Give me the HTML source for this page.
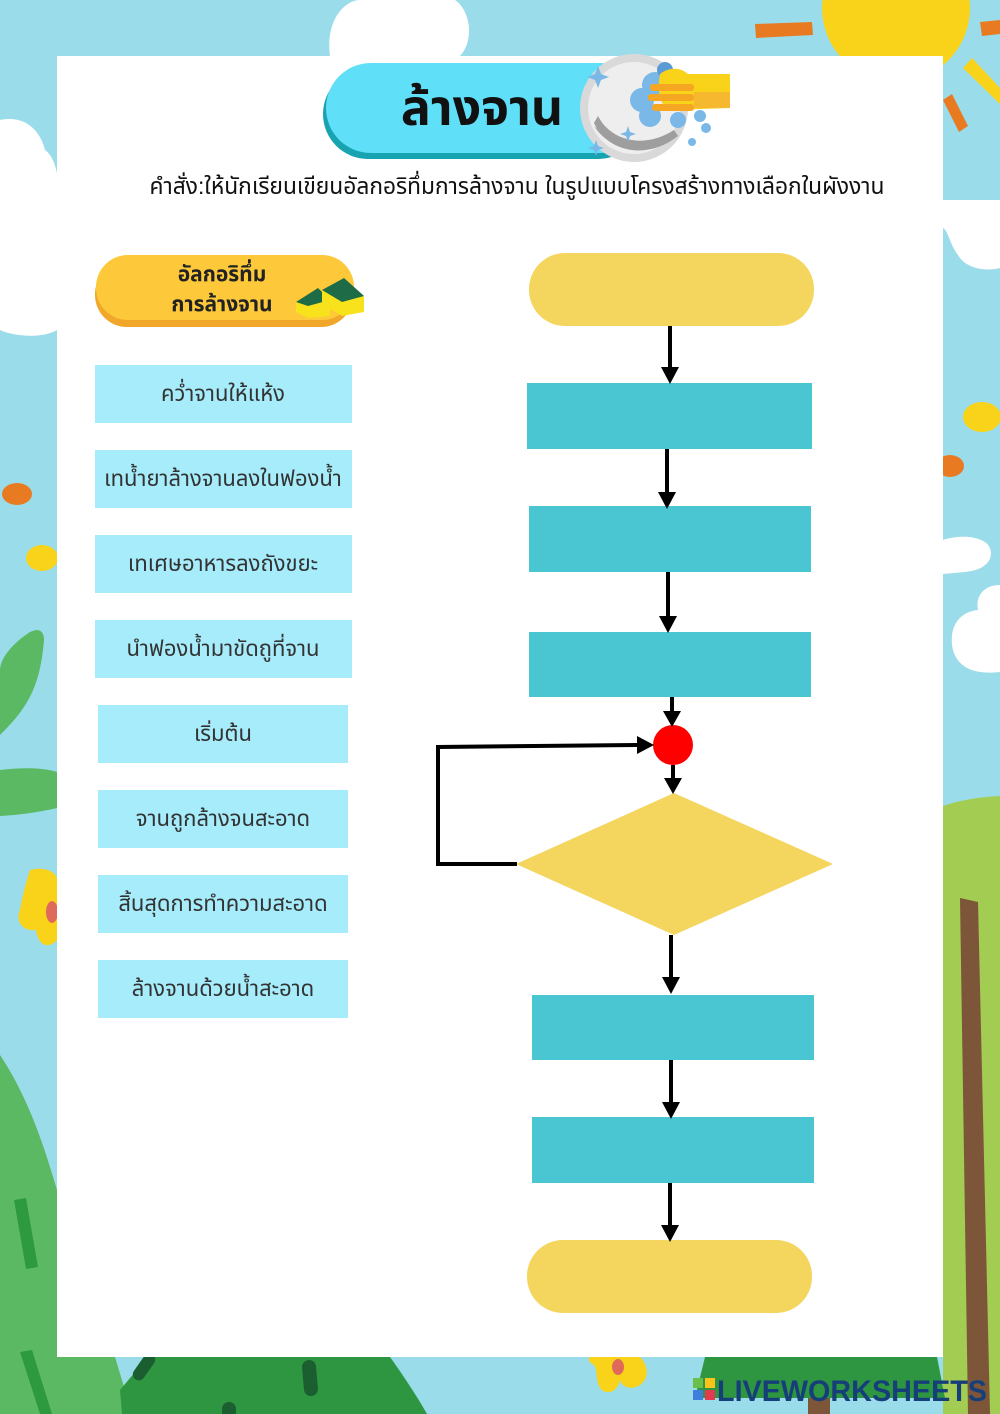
<!DOCTYPE html>
<html>
<head>
<meta charset="utf-8">
<style>
html,body{margin:0;padding:0;width:1000px;height:1414px;overflow:hidden;background:#9bdcea;}
svg{display:block;}
text{font-family:"Liberation Sans","Noto Sans Thai","Garuda","Loma","DejaVu Sans","Noto Sans CJK SC",sans-serif;}
</style>
</head>
<body>
<svg width="1000" height="1414" viewBox="0 0 1000 1414" xmlns="http://www.w3.org/2000/svg">
  <!-- sky -->
  <rect x="0" y="0" width="1000" height="1414" fill="#9bdcea"/>

  <!-- sun -->
  <circle cx="896" cy="8" r="74" fill="#f9d21a"/>
  <polygon points="755,24 812,22 813,35 756,38" fill="#e87b22"/>
  <polygon points="980,22 1000,20 1000,34 982,36" fill="#e87b22"/>
  <polygon points="963,68 972,58 1000,88 1000,104" fill="#f9d21a"/>
  <polygon points="943,100 952,94 968,126 959,132" fill="#e87b22"/>

  <!-- clouds -->
  <path d="M330,56 C325,20 345,0 360,0 L455,0 C470,10 475,40 460,56 Z" fill="#ffffff"/>
  <path d="M0,120 C25,115 40,130 45,150 C60,160 62,200 57,230 L57,330 C40,340 10,335 0,330 Z" fill="#ffffff"/>
  <path d="M943,200 L1000,200 L1000,268 C985,272 965,268 958,255 C950,245 948,230 943,228 Z" fill="#ffffff"/>
  <path d="M943,540 C960,534 985,536 990,548 C994,560 985,570 965,572 L943,574 Z" fill="#ffffff"/>
  <path d="M1000,585 C985,585 975,595 978,610 C960,612 950,625 952,645 C955,668 975,675 1000,672 Z" fill="#ffffff"/>

  <!-- right dots -->
  <ellipse cx="982" cy="417" rx="19" ry="15" fill="#f9d21a"/>
  <ellipse cx="950" cy="466" rx="14" ry="11" fill="#e87b22"/>

  <!-- right hill + trunk -->
  <path d="M943,806 C960,800 980,797 1000,796 L1000,1414 L943,1414 Z" fill="#a3cc52"/>
  <polygon points="960,898 978,902 990,1414 968,1414" fill="#7d5538"/>

  <!-- left decorations -->
  <ellipse cx="17" cy="494" rx="15" ry="11" fill="#e87b22"/>
  <ellipse cx="42" cy="558" rx="16" ry="13" fill="#f9d21a"/>
  <path d="M0,735 C25,710 40,690 44,640 C44,630 38,628 30,632 C10,645 0,660 0,670 Z" fill="#5cb963"/>
  <path d="M0,770 C25,767 45,768 57,772 L57,808 C40,812 20,815 0,816 Z" fill="#5cb963"/>
  <path d="M30,870 C45,866 57,872 57,880 L57,940 C48,950 38,945 36,930 C22,932 15,920 20,910 C22,898 26,882 30,870 Z" fill="#f9d21a"/>
  <ellipse cx="52" cy="912" rx="6" ry="11" fill="#e06a5a"/>

  <!-- left green hill -->
  <path d="M0,1055 C30,1100 45,1150 57,1190 L57,1357 L115,1357 C122,1380 128,1400 132,1414 L0,1414 Z" fill="#5cb963"/>
  <polygon points="14,1200 26,1198 38,1267 26,1269" fill="#2e9a40"/>
  <polygon points="20,1352 32,1350 52,1414 40,1414" fill="#2e9a40"/>

  <!-- dark green bottom hill -->
  <path d="M120,1390 C130,1378 140,1366 150,1357 L390,1357 C405,1378 418,1398 427,1414 L122,1414 Z" fill="#2e9640"/>
  <rect x="138" y="1352" width="12" height="30" rx="6" fill="#1b5e30" transform="rotate(35 144 1367)"/>
  <rect x="303" y="1360" width="14" height="36" rx="7" fill="#1b5e30" transform="rotate(-5 310 1378)"/>
  <rect x="222" y="1402" width="14" height="20" rx="7" fill="#1b5e30"/>

  <!-- bottom flower -->
  <path d="M590,1357 L640,1357 C648,1365 650,1378 640,1385 C632,1390 622,1388 620,1380 C618,1392 606,1396 600,1388 C595,1378 598,1370 594,1365 C588,1362 588,1358 590,1357 Z" fill="#f9d21a"/>
  <ellipse cx="618" cy="1367" rx="6" ry="8" fill="#e06a5a"/>

  <!-- bottom tree -->
  <polygon points="705,1357 937,1357 945,1398 695,1398" fill="#2e9640"/>
  <rect x="808" y="1398" width="22" height="16" fill="#7d5538"/>

  <!-- white panel -->
  <rect x="57" y="56" width="886" height="1301" fill="#ffffff"/>

  <!-- header pill -->
  <rect x="323" y="69" width="320" height="90" rx="45" fill="#17a3b0"/>
  <rect x="326" y="63" width="320" height="90" rx="45" fill="#5fdff8"/>
  <text x="482" y="125" text-anchor="middle" font-size="50" font-weight="bold" fill="#111">ล้างจาน</text>

  <!-- plate -->
  <circle cx="634" cy="108" r="54" fill="#d9d9d9"/>
  <circle cx="634" cy="108" r="46" fill="#eeeeee"/>
  <path d="M594,126 C608,148 638,158 668,138 C648,148 613,143 594,126 Z" fill="#a8a8a8"/>
  <path d="M598,116 C610,140 643,150 674,130 L678,136 C648,160 608,153 594,123 Z" fill="#9e9e9e"/>
  <!-- sparkles -->
  <path d="M598,66 l3,8 8,3 -8,3 -3,8 -3,-8 -8,-3 8,-3 z" fill="#7ab8e8"/>
  <path d="M628,126 l2,6 6,2 -6,2 -2,6 -2,-6 -6,-2 6,-2 z" fill="#7ab8e8"/>
  <path d="M596,140 l2,6 6,2 -6,2 -2,6 -2,-6 -6,-2 6,-2 z" fill="#7ab8e8"/>
  <!-- sponge suds -->
  <circle cx="655" cy="85" r="13" fill="#7ab8e8"/>
  <circle cx="642" cy="100" r="12" fill="#7ab8e8"/>
  <circle cx="650" cy="116" r="11" fill="#7ab8e8"/>
  <circle cx="665" cy="70" r="8" fill="#5a9bd6"/>
  <circle cx="678" cy="120" r="8" fill="#7ab8e8"/>
  <circle cx="700" cy="116" r="6" fill="#7ab8e8"/>
  <circle cx="706" cy="128" r="5" fill="#7ab8e8"/>
  <circle cx="692" cy="142" r="4" fill="#7ab8e8"/>
  <!-- glove -->
  <path d="M660,74 C670,66 682,68 688,74 L730,74 L730,108 L672,110 C662,108 656,96 660,74 Z" fill="#f9d21a"/>
  <rect x="650" y="84" width="44" height="7" rx="3" fill="#f5a623"/>
  <rect x="648" y="94" width="46" height="7" rx="3" fill="#f5a623"/>
  <rect x="652" y="104" width="42" height="7" rx="3" fill="#f5a623"/>
  <rect x="694" y="92" width="36" height="16" fill="#f5b82e"/>

  <!-- subtitle -->
  <text x="517" y="194" text-anchor="middle" font-size="23" fill="#111" textLength="735" lengthAdjust="spacingAndGlyphs">คำสั่ง:ให้นักเรียนเขียนอัลกอริทึ่มการล้างจาน ในรูปแบบโครงสร้างทางเลือกในผังงาน</text>

  <!-- left pill -->
  <rect x="95" y="262" width="258" height="65" rx="32" fill="#f0a72a"/>
  <rect x="96" y="255" width="258" height="65" rx="32" fill="#fdc93a"/>
  <text x="222" y="281" text-anchor="middle" font-size="21" font-weight="bold" fill="#222">อัลกอริทึ่ม</text>
  <text x="222" y="311" text-anchor="middle" font-size="21" font-weight="bold" fill="#222">การล้างจาน</text>
  <!-- sponge icon -->
  <polygon points="296,302 318,288 330,300 330,316 308,318 296,312" fill="#f8e21c"/>
  <polygon points="296,302 318,288 330,300 308,306" fill="#1e6b47"/>
  <polygon points="322,290 344,278 364,296 364,312 342,316 322,304" fill="#f8e21c"/>
  <polygon points="322,290 344,278 364,296 342,302" fill="#1e6b47"/>

  <!-- left option boxes -->
  <g fill="#a6ecfb">
    <rect x="95" y="365" width="257" height="58"/>
    <rect x="95" y="450" width="257" height="58"/>
    <rect x="95" y="535" width="257" height="58"/>
    <rect x="95" y="620" width="257" height="58"/>
    <rect x="98" y="705" width="250" height="58"/>
    <rect x="98" y="790" width="250" height="58"/>
    <rect x="98" y="875" width="250" height="58"/>
    <rect x="98" y="960" width="250" height="58"/>
  </g>
  <g font-size="22" fill="#333" text-anchor="middle">
    <text x="223" y="401">คว่ำจานให้แห้ง</text>
    <text x="223" y="486">เทน้ำยาล้างจานลงในฟองน้ำ</text>
    <text x="223" y="571">เทเศษอาหารลงถังขยะ</text>
    <text x="223" y="656">นำฟองน้ำมาขัดถูที่จาน</text>
    <text x="223" y="741">เริ่มต้น</text>
    <text x="223" y="826">จานถูกล้างจนสะอาด</text>
    <text x="223" y="911">สิ้นสุดการทำความสะอาด</text>
    <text x="223" y="996">ล้างจานด้วยน้ำสะอาด</text>
  </g>

  <!-- flowchart shapes -->
  <rect x="529" y="253" width="285" height="73" rx="36" fill="#f4d55e"/>
  <rect x="527" y="383" width="285" height="66" fill="#4ac6d2"/>
  <rect x="529" y="506" width="282" height="66" fill="#4ac6d2"/>
  <rect x="529" y="632" width="282" height="65" fill="#4ac6d2"/>
  <circle cx="673" cy="745" r="20" fill="#ff0000"/>
  <polygon points="674,793 833,864 674,935 516,864" fill="#f4d55e"/>
  <rect x="532" y="995" width="282" height="65" fill="#4ac6d2"/>
  <rect x="532" y="1117" width="282" height="66" fill="#4ac6d2"/>
  <rect x="527" y="1240" width="285" height="73" rx="36" fill="#f4d55e"/>

  <!-- connectors -->
  <g stroke="#000" stroke-width="4" fill="none">
    <line x1="670" y1="326" x2="670" y2="370"/>
    <line x1="667" y1="449" x2="667" y2="495"/>
    <line x1="668" y1="572" x2="668" y2="619"/>
    <line x1="672" y1="697" x2="672" y2="714"/>
    <line x1="673" y1="765" x2="673" y2="781"/>
    <polyline points="517,864 438,864 438,747 640,745"/>
    <line x1="671" y1="935" x2="671" y2="980"/>
    <line x1="671" y1="1060" x2="671" y2="1105"/>
    <line x1="670" y1="1183" x2="670" y2="1228"/>
  </g>
  <g fill="#000">
    <polygon points="661,367 679,367 670,384"/>
    <polygon points="658,492 676,492 667,509"/>
    <polygon points="659,616 677,616 668,633"/>
    <polygon points="663,711 681,711 672,727"/>
    <polygon points="664,778 682,778 673,794"/>
    <polygon points="637,736 637,754 654,745"/>
    <polygon points="662,977 680,977 671,994"/>
    <polygon points="662,1102 680,1102 671,1119"/>
    <polygon points="661,1225 679,1225 670,1242"/>
  </g>

  <!-- liveworksheets logo -->
  <rect x="693" y="1378" width="10" height="10" fill="#6abf4b"/>
  <rect x="705" y="1378" width="10" height="10" fill="#f9c31a"/>
  <rect x="693" y="1390" width="10" height="10" fill="#3d7fd9"/>
  <rect x="705" y="1390" width="10" height="10" fill="#e23a4e"/>
  <text x="717" y="1401" font-size="30" font-weight="bold" fill="#163f7a" textLength="270" lengthAdjust="spacingAndGlyphs">LIVEWORKSHEETS</text>
</svg>
</body>
</html>
